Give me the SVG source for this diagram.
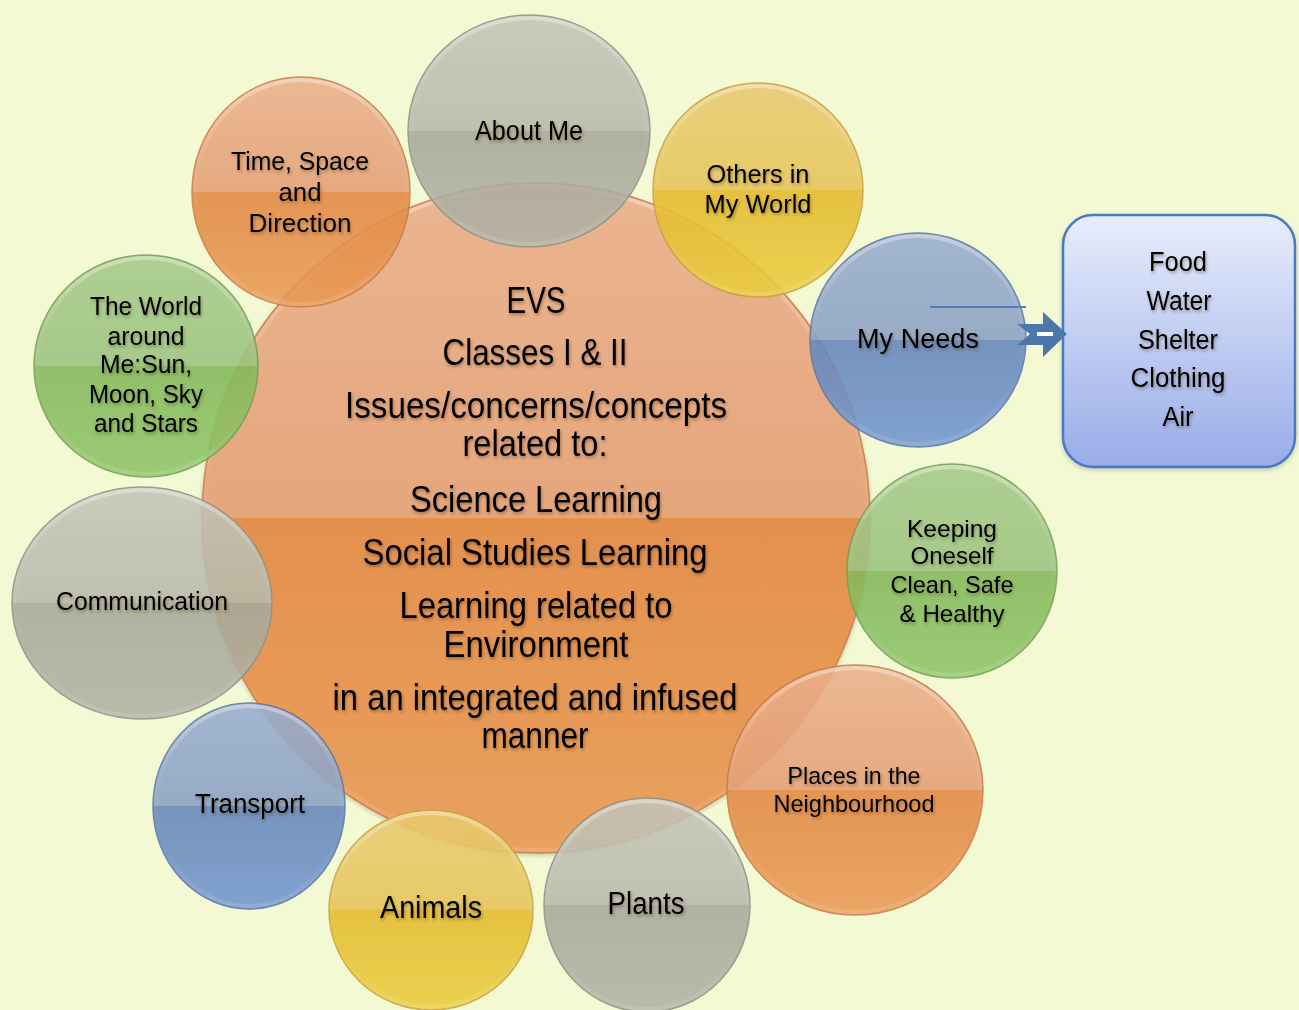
<svg xmlns="http://www.w3.org/2000/svg" width="1299" height="1010" viewBox="0 0 1299 1010">
<defs>
<linearGradient id="gO" x1="0" y1="0" x2="0" y2="1"><stop offset="0" stop-color="#eab08c"/><stop offset="0.5" stop-color="#e59f75"/><stop offset="0.5" stop-color="#e38843"/><stop offset="1" stop-color="#e99a55"/></linearGradient>
<linearGradient id="gG" x1="0" y1="0" x2="0" y2="1"><stop offset="0" stop-color="#c4c5b8"/><stop offset="0.5" stop-color="#b8b9ac"/><stop offset="0.5" stop-color="#a7a89b"/><stop offset="1" stop-color="#b1b2a5"/></linearGradient>
<linearGradient id="gY" x1="0" y1="0" x2="0" y2="1"><stop offset="0" stop-color="#e8ca70"/><stop offset="0.5" stop-color="#e6c458"/><stop offset="0.5" stop-color="#e5b92e"/><stop offset="1" stop-color="#e9cd3e"/></linearGradient>
<linearGradient id="gB" x1="0" y1="0" x2="0" y2="1"><stop offset="0" stop-color="#98adcf"/><stop offset="0.5" stop-color="#8ba1c4"/><stop offset="0.5" stop-color="#6586bb"/><stop offset="1" stop-color="#7196d0"/></linearGradient>
<linearGradient id="gN" x1="0" y1="0" x2="0" y2="1"><stop offset="0" stop-color="#a6ca8a"/><stop offset="0.5" stop-color="#9bc380"/><stop offset="0.5" stop-color="#84b85b"/><stop offset="1" stop-color="#8ec567"/></linearGradient>
<linearGradient id="rim" x1="0" y1="0" x2="0" y2="1"><stop offset="0" stop-color="#fff" stop-opacity="0.35"/><stop offset="0.3" stop-color="#fff" stop-opacity="0.06"/><stop offset="0.7" stop-color="#fff" stop-opacity="0"/><stop offset="1" stop-color="#fff" stop-opacity="0.12"/></linearGradient>
<linearGradient id="gBox" x1="0" y1="0" x2="0" y2="1"><stop offset="0" stop-color="#e8edfc"/><stop offset="1" stop-color="#98ace8"/></linearGradient>
<filter id="ts" x="-10%" y="-30%" width="120%" height="160%"><feDropShadow dx="1" dy="2" stdDeviation="1.5" flood-color="#3a2000" flood-opacity="0.4"/></filter>
<filter id="cs" x="-10%" y="-10%" width="120%" height="120%"><feDropShadow dx="0" dy="2" stdDeviation="2" flood-color="#000" flood-opacity="0.2"/></filter>
</defs>
<style>
text{font-family:"Liberation Sans",Arial,sans-serif;fill:#000;text-anchor:middle;filter:url(#ts)}
.o,.g,.y,.b,.n{stroke-width:1.5;opacity:0.88}
.o{fill:url(#gO);stroke:#c97c48}
.g{fill:url(#gG);stroke:#909186}
.y{fill:url(#gY);stroke:#c9a23c}
.b{fill:url(#gB);stroke:#5a77a4}
.n{fill:url(#gN);stroke:#74a052}
.r{fill:none;stroke:url(#rim);stroke-width:4}
.big{font-size:37px}
</style>
<rect width="1299" height="1010" fill="#f3f9d3"/>

<g id="center">
<ellipse cx="536" cy="518" rx="334" ry="335" class="o" style="opacity:0.92" filter="url(#cs)"/>
<ellipse cx="536" cy="518" rx="331" ry="332" class="r"/>
</g>

<g id="about-me">
<ellipse cx="529" cy="131" rx="121" ry="116" class="g"/>
<ellipse cx="529" cy="131" rx="118" ry="113" class="r"/>
<text x="529" y="140" font-size="28" textLength="108" lengthAdjust="spacingAndGlyphs">About Me</text>
</g>

<g id="others">
<ellipse cx="758" cy="190" rx="105" ry="107" class="y"/>
<ellipse cx="758" cy="190" rx="102" ry="104" class="r"/>
<text x="758" y="183" font-size="26" textLength="103" lengthAdjust="spacingAndGlyphs">Others in</text>
<text x="758" y="213" font-size="26" textLength="107" lengthAdjust="spacingAndGlyphs">My World</text>
</g>

<g id="my-needs">
<ellipse cx="918" cy="340" rx="108" ry="107" class="b"/>
<ellipse cx="918" cy="340" rx="105" ry="104" class="r"/>
<text x="918" y="348" font-size="28" textLength="122" lengthAdjust="spacingAndGlyphs">My Needs</text>
</g>

<g id="keeping">
<ellipse cx="952" cy="571" rx="105" ry="107" class="n"/>
<ellipse cx="952" cy="571" rx="102" ry="104" class="r"/>
<text x="952" y="537" font-size="24" textLength="90" lengthAdjust="spacingAndGlyphs">Keeping</text>
<text x="952" y="564" font-size="24" textLength="83" lengthAdjust="spacingAndGlyphs">Oneself</text>
<text x="952" y="593" font-size="24" textLength="123" lengthAdjust="spacingAndGlyphs">Clean, Safe</text>
<text x="952" y="622" font-size="24" textLength="105" lengthAdjust="spacingAndGlyphs">&amp; Healthy</text>
</g>

<g id="places">
<ellipse cx="855" cy="790" rx="128" ry="125" class="o"/>
<ellipse cx="855" cy="790" rx="125" ry="122" class="r"/>
<text x="854" y="784" font-size="24" textLength="133" lengthAdjust="spacingAndGlyphs">Places in the</text>
<text x="854" y="812" font-size="24" textLength="161" lengthAdjust="spacingAndGlyphs">Neighbourhood</text>
</g>

<g id="plants">
<ellipse cx="647" cy="905" rx="103" ry="107" class="g"/>
<ellipse cx="647" cy="905" rx="100" ry="104" class="r"/>
<text x="646" y="914" font-size="31" textLength="77" lengthAdjust="spacingAndGlyphs">Plants</text>
</g>

<g id="animals">
<ellipse cx="431" cy="910" rx="102" ry="100" class="y"/>
<ellipse cx="431" cy="910" rx="99" ry="97" class="r"/>
<text x="431" y="918" font-size="31" textLength="102" lengthAdjust="spacingAndGlyphs">Animals</text>
</g>

<g id="transport">
<ellipse cx="249" cy="806" rx="96" ry="103" class="b"/>
<ellipse cx="249" cy="806" rx="93" ry="100" class="r"/>
<text x="250" y="813" font-size="27" textLength="110" lengthAdjust="spacingAndGlyphs">Transport</text>
</g>

<g id="communication">
<ellipse cx="142" cy="603" rx="130" ry="116" class="g"/>
<ellipse cx="142" cy="603" rx="127" ry="113" class="r"/>
<text x="142" y="610" font-size="26" textLength="172" lengthAdjust="spacingAndGlyphs">Communication</text>
</g>

<g id="world">
<ellipse cx="146" cy="366" rx="112" ry="111" class="n"/>
<ellipse cx="146" cy="366" rx="109" ry="108" class="r"/>
<text x="146" y="315" font-size="25" textLength="112" lengthAdjust="spacingAndGlyphs">The World</text>
<text x="146" y="345" font-size="25" textLength="77" lengthAdjust="spacingAndGlyphs">around</text>
<text x="146" y="373" font-size="25" textLength="92" lengthAdjust="spacingAndGlyphs">Me:Sun,</text>
<text x="146" y="403" font-size="25" textLength="114" lengthAdjust="spacingAndGlyphs">Moon, Sky</text>
<text x="146" y="432" font-size="25" textLength="104" lengthAdjust="spacingAndGlyphs">and Stars</text>
</g>

<g id="time-space">
<ellipse cx="301" cy="192" rx="109" ry="115" class="o"/>
<ellipse cx="301" cy="192" rx="106" ry="112" class="r"/>
<text x="300" y="170" font-size="26" textLength="138" lengthAdjust="spacingAndGlyphs">Time, Space</text>
<text x="300" y="201" font-size="26" textLength="43" lengthAdjust="spacingAndGlyphs">and</text>
<text x="300" y="232" font-size="26" textLength="103" lengthAdjust="spacingAndGlyphs">Direction</text>
</g>

<g id="center-text">
<text x="536" y="313" class="big" textLength="59" lengthAdjust="spacingAndGlyphs">EVS</text>
<text x="535" y="365" class="big" textLength="185" lengthAdjust="spacingAndGlyphs">Classes I &amp; II</text>
<text x="536" y="418" class="big" textLength="382" lengthAdjust="spacingAndGlyphs">Issues/concerns/concepts</text>
<text x="535" y="456" class="big" textLength="145" lengthAdjust="spacingAndGlyphs">related to:</text>
<text x="536" y="512" class="big" textLength="252" lengthAdjust="spacingAndGlyphs">Science Learning</text>
<text x="535" y="565" class="big" textLength="345" lengthAdjust="spacingAndGlyphs">Social Studies Learning</text>
<text x="536" y="618" class="big" textLength="273" lengthAdjust="spacingAndGlyphs">Learning related to</text>
<text x="536" y="657" class="big" textLength="185" lengthAdjust="spacingAndGlyphs">Environment</text>
<text x="535" y="710" class="big" textLength="405" lengthAdjust="spacingAndGlyphs">in an integrated and infused</text>
<text x="535" y="748" class="big" textLength="107" lengthAdjust="spacingAndGlyphs">manner</text>
</g>

<g id="needs-box">
<rect x="1063" y="215" width="232" height="252" rx="30" fill="url(#gBox)" stroke="#4a78c8" stroke-width="2.5" filter="url(#cs)"/>
<text x="1178" y="271" font-size="27" textLength="58" lengthAdjust="spacingAndGlyphs">Food</text>
<text x="1179" y="310" font-size="27" textLength="65" lengthAdjust="spacingAndGlyphs">Water</text>
<text x="1178" y="349" font-size="27" textLength="80" lengthAdjust="spacingAndGlyphs">Shelter</text>
<text x="1178" y="387" font-size="27" textLength="95" lengthAdjust="spacingAndGlyphs">Clothing</text>
<text x="1178" y="426" font-size="27" textLength="31" lengthAdjust="spacingAndGlyphs">Air</text>
</g>

<g id="connectors">
<line x1="930" y1="307" x2="1026" y2="307" stroke="#4f7fc4" stroke-width="2"/>
<polygon points="1017,324 1043,324 1043,312 1067,334 1043,357 1043,345 1017,345 1030,334" fill="#4b78a8"/>
<rect x="1037" y="332" width="16" height="4" fill="#fff"/>
</g>
</svg>
